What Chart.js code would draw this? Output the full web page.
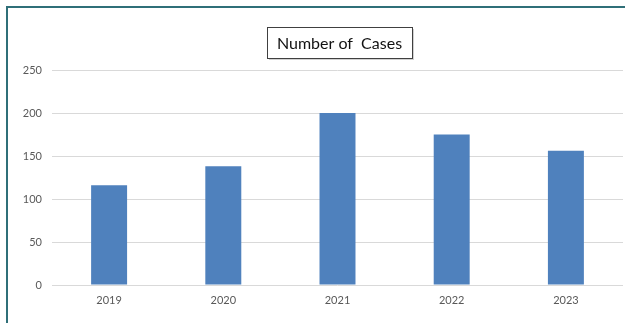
<!DOCTYPE html>
<html><head><meta charset="utf-8">
<script src="https://cdn.jsdelivr.net/npm/chart.js@4"></script>
<style>
html,body{margin:0;padding:0;background:#fff;}
#wrap{position:relative;width:625px;height:323px;}
#frame{position:absolute;left:6px;top:6px;width:640px;height:340px;border-left:2px solid #2f6f78;border-top:2px solid #2f6f78;pointer-events:none;}
canvas{position:absolute;left:0;top:0;}
</style></head>
<body><div id="wrap"><canvas id="c" width="625" height="323"></canvas><div id="frame"></div></div>
<script>
const categories = ["2019","2020","2021","2022","2023"];
const cases = [116, 138, 200, 175, 156];
const yTicks = [0, 50, 100, 150, 200, 250];
const titleText = "Number of  Cases";

const titleBox = {
  id: 'titleBox',
  afterDraw(chart) {
    const ctx = chart.ctx;
    ctx.save();
    const w = 145, h = 31, x = 267, y = 27;
    ctx.fillStyle = 'rgba(0,0,0,0.18)';
    ctx.fillRect(x + 2, y + 2, w, h);
    ctx.fillStyle = '#fff';
    ctx.fillRect(x, y, w, h);
    ctx.strokeStyle = '#404040';
    ctx.lineWidth = 1;
    ctx.strokeRect(x + 0.5, y + 0.5, w, h);
    ctx.fillStyle = '#111';
    ctx.textAlign = 'center';
    ctx.textBaseline = 'middle';
    ctx.font = '16px Lato, "Liberation Sans", sans-serif';
    ctx.fillText(titleText, x + w / 2, y + h / 2 + 1);
    ctx.restore();
  }
};

new Chart(document.getElementById('c'), {
  type: 'bar',
  data: {
    labels: categories,
    datasets: [{
      data: cases,
      backgroundColor: '#4f81bd',
      categoryPercentage: 1,
      barPercentage: 0.315
    }]
  },
  options: {
    responsive: false,
    animation: false,
    layout: { padding: { top: 70, right: 2, left: 0, bottom: 0 } },
    plugins: { legend: { display: false }, tooltip: { enabled: false } },
    scales: {
      x: {
        grid: { display: false, drawTicks: false },
        border: { display: false },
        ticks: { color: '#595959', font: { family: 'Lato, "Liberation Sans", sans-serif', size: 11 }, padding: 9 },
        afterFit(s) { s.height = 38; }
      },
      y: {
        min: 0, max: 250,
        afterBuildTicks(s) { s.ticks = yTicks.map(v => ({ value: v })); },
        grid: { color: '#d9d9d9', drawTicks: false },
        border: { display: false },
        ticks: { color: '#595959', font: { family: 'Lato, "Liberation Sans", sans-serif', size: 11 }, padding: 10 },
        afterFit(s) { s.width = 52; }
      }
    }
  },
  plugins: [titleBox]
});
</script></body></html>
